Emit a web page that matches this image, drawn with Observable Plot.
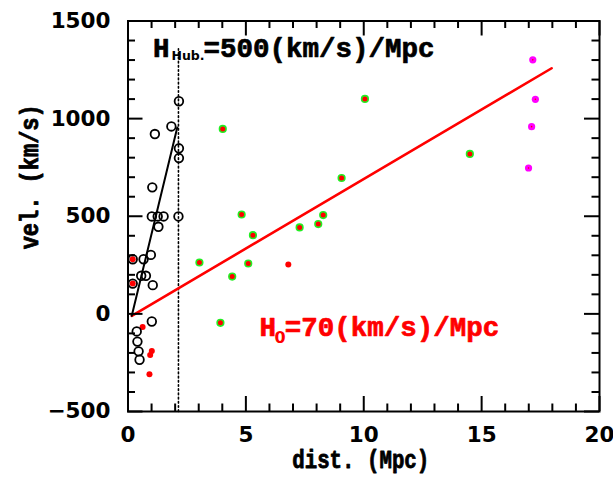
<!DOCTYPE html>
<html>
<head>
<meta charset="utf-8">
<script src="https://cdn.jsdelivr.net/npm/d3@7"></script>
<script src="https://cdn.jsdelivr.net/npm/@observablehq/plot@0.6"></script>
<style>
  html, body { margin: 0; padding: 0; background: white; }
</style>
</head>
<body>
<div id="chart"></div>
<script>
// ---- data ----
const distBlack = [2.16, 1.84, 1.14, 2.16, 2.16, 1.03, 1.01, 1.26, 1.51, 2.14, 1.29, 0.97, 0.66, 0.20, 0.56, 0.76, 0.20, 1.05, 1.01, 0.37, 0.40, 0.45, 0.49];
const velBlack  = [1089, 960, 921, 848, 798, 648, 499, 499, 499, 499, 446, 302, 280, 280, 195, 195, 155, 147, -39, -90, -142, -192, -235];

const distRed = [0.20, 0.20, 0.62, 1.01, 0.94, 0.91, 6.8];
const velRed  = [280, 155, -67, -190, -210, -309, 253];

const distGreen = [3.03, 3.92, 4.02, 4.42, 4.82, 5.10, 5.30, 7.28, 8.07, 8.28, 9.06, 10.05, 14.5];
const velGreen  = [263, -46, 947, 191, 509, 258, 403, 443, 460, 506, 696, 1101, 819];

const distMag = [16.99, 17.12, 17.17, 17.28];
const velMag  = [747, 959, 1301, 1099];

// fitted lines (endpoints)
const h0LineDist = [0.16, 17.97];
const h0LineVel  = [-10, 1258];
const hubLineDist = [0.16, 2.09];
const hubLineVel  = [-10, 955];
// dotted vertical reference
const dottedDist = [2.14, 2.14];
const dottedVel  = [-500, 1360];

// ticks
const xMajor = [0, 5, 10, 15, 20];
const xMinor = d3.range(0, 21, 1).filter(v => v % 5 !== 0);
const yMajor = [-500, 0, 500, 1000, 1500];
const yMinor = d3.range(-500, 1501, 100).filter(v => v % 500 !== 0);

// labels
const xTitle = "dist. (Mpc)";
const yTitle = "vel. (km/s)";
const yTitleAt = 702;
const hubLabel = ["H", "Hub.", "=500(km/s)/Mpc"];
const hubLabelAt = [1.06, 1314];
const h0Label = ["H", "0", "=70(km/s)/Mpc"];
const h0LabelAt = [5.58, -113];

// ---- build tables ----
const zipPts = (ds, vs) => ds.map((d, i) => ({d, v: vs[i]}));
const black = zipPts(distBlack, velBlack);
const red = zipPts(distRed, velRed);
const green = zipPts(distGreen, velGreen);
const mag = zipPts(distMag, velMag);
const h0Line = zipPts(h0LineDist, h0LineVel);
const hubLine = zipPts(hubLineDist, hubLineVel);
const dotted = zipPts(dottedDist, dottedVel);

const W = 613, H = 484;
const mL = 127.5, mR = 14, mT = 20.5, mB = 73;
const fw = W - mL - mR, fh = H - mT - mB;
const majLen = 15, minLen = 7.5;
const tickStyle = {stroke: "black", strokeWidth: 2};
const monoFont = "Liberation Mono, Courier New, monospace";
const sansFont = "DejaVu Sans, sans-serif";
const fmt = d => (d < 0 ? "\u2212" + Math.abs(d) : String(d));

const chart = Plot.plot({
  width: W, height: H,
  marginLeft: mL, marginRight: mR, marginTop: mT, marginBottom: mB,
  style: {background: "white", color: "black"},
  x: {domain: [0, 20]},
  y: {domain: [-500, 1500]},
  marks: [
    // dotted vertical
    Plot.line(dotted, {x: "d", y: "v", stroke: "black", strokeWidth: 1.6, strokeDasharray: "1.6,2.6"}),
    // lines
    Plot.line(h0Line, {x: "d", y: "v", stroke: "#ff0000", strokeWidth: 2.6}),
    Plot.line(hubLine, {x: "d", y: "v", stroke: "black", strokeWidth: 2}),
    // points
    Plot.dot(red, {x: "d", y: "v", r: 3, fill: "#ff0000", stroke: "none"}),
    Plot.dot(black, {x: "d", y: "v", r: 4.3, fill: "none", stroke: "black", strokeWidth: 1.8}),
    Plot.dot(green, {x: "d", y: "v", r: 3.3, fill: "#ff0000", stroke: "#22ee22", strokeWidth: 1.6}),
    Plot.dot(mag, {x: "d", y: "v", r: 3.6, fill: "#ff00ff", stroke: "none"}),
    Plot.dot(mag, {x: "d", y: "v", r: 0.8, fill: "#ff0000", stroke: "none"}),
    // ticks (inside, all four sides)
    Plot.ruleX(xMajor, {...tickStyle, insetTop: fh - majLen}),
    Plot.ruleX(xMinor, {...tickStyle, insetTop: fh - minLen}),
    Plot.ruleX(xMajor, {...tickStyle, insetBottom: fh - majLen}),
    Plot.ruleX(xMinor, {...tickStyle, insetBottom: fh - minLen}),
    Plot.ruleY(yMajor, {...tickStyle, insetRight: fw - majLen}),
    Plot.ruleY(yMinor, {...tickStyle, insetRight: fw - minLen}),
    Plot.ruleY(yMajor, {...tickStyle, insetLeft: fw - majLen}),
    Plot.ruleY(yMinor, {...tickStyle, insetLeft: fw - minLen}),
    Plot.frame({stroke: "black", strokeWidth: 2}),
    // tick labels
    Plot.axisX({ticks: xMajor, tickFormat: fmt, tickSize: 0, tickPadding: 15, label: null, fontFamily: sansFont, fontWeight: "bold", fontSize: 21.5}),
    Plot.axisY({ticks: yMajor, tickFormat: fmt, tickSize: 0, tickPadding: 17.5, label: null, fontFamily: sansFont, fontWeight: "bold", fontSize: 21.5}),
    // axis titles
    Plot.text(["XTITLE"], {frameAnchor: "bottom", text: d => d, textAnchor: "middle", lineAnchor: "bottom", dy: 56, dx: -3,
      fontFamily: monoFont, fontWeight: "bold", fontSize: 25, fill: "black", stroke: "black", strokeWidth: 0.8}),
    Plot.text(["YTITLE"], {frameAnchor: "left", y: () => yTitleAt, text: d => d, rotate: -90, dx: -98, textAnchor: "middle",
      lineAnchor: "middle", fontFamily: monoFont, fontWeight: "bold", fontSize: 25, fill: "black", stroke: "black", strokeWidth: 0.8}),
    // annotations (rich text filled in below)
    Plot.text(["HUBLABEL"], {x: () => hubLabelAt[0], y: () => hubLabelAt[1], text: d => d, textAnchor: "start",
      lineAnchor: "bottom", fontFamily: monoFont, fontWeight: "bold", fontSize: 27.5, fill: "black", stroke: "black", strokeWidth: 0.7}),
    Plot.text(["H0LABEL"], {x: () => h0LabelAt[0], y: () => h0LabelAt[1], text: d => d, textAnchor: "start",
      lineAnchor: "bottom", fontFamily: monoFont, fontWeight: "bold", fontSize: 27.5, fill: "#ff0000", stroke: "#ff0000", strokeWidth: 0.7})
  ]
});

d3.select(chart).selectAll("text").each(function () {
  const t = d3.select(this);
  const c = this.textContent;
  if (c === "HUBLABEL") {
    t.text("");
    t.append("tspan").text(hubLabel[0]);
    t.append("tspan").attr("font-family", sansFont).attr("font-size", 12.5).attr("stroke-width", 0).attr("dx", 2).attr("dy", 2.5).text(hubLabel[1]);
    t.append("tspan").attr("dx", -1).attr("dy", -2.5).text(hubLabel[2]);
  } else if (c === "H0LABEL") {
    t.text("");
    t.append("tspan").text(h0Label[0]);
    t.append("tspan").attr("font-family", sansFont).attr("font-size", 16).attr("stroke-width", 0).attr("dx", -1.5).attr("dy", 7).text(h0Label[1]);
    t.append("tspan").attr("dx", -1).attr("dy", -7).text(h0Label[2]);
  } else if (c === "XTITLE") {
    t.text(xTitle).attr("textLength", 137).attr("lengthAdjust", "spacingAndGlyphs");
  } else if (c === "YTITLE") {
    t.text(yTitle).attr("textLength", 145).attr("lengthAdjust", "spacingAndGlyphs");
  }
});

document.getElementById("chart").appendChild(chart);
</script>
</body>
</html>
